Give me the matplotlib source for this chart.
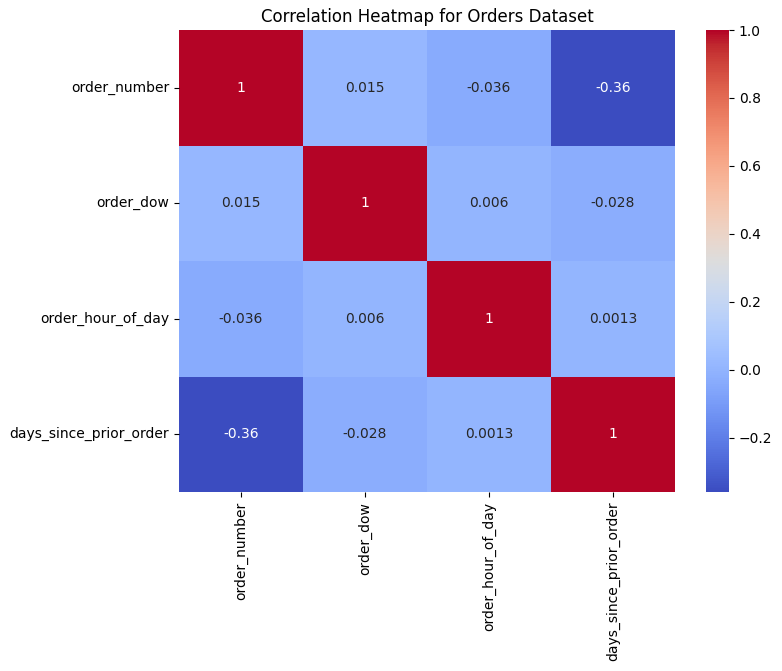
import matplotlib
matplotlib.use('Agg')
import matplotlib.pyplot as plt
import numpy as np
import pandas as pd
import seaborn as sns

columns = ['order_number', 'order_dow', 'order_hour_of_day', 'days_since_prior_order']
corr_values = [
    [1.0, 0.015, -0.036, -0.36],
    [0.015, 1.0, 0.006, -0.028],
    [-0.036, 0.006, 1.0, 0.0013],
    [-0.36, -0.028, 0.0013, 1.0],
]

corr = pd.DataFrame(corr_values, index=columns, columns=columns)

fig = plt.figure(figsize=(7.82, 6.71), dpi=100)
ax = fig.add_axes([179 / 782, 1 - 492 / 671, 496 / 782, 462 / 671])
cax = fig.add_axes([706 / 782, 1 - 492 / 671, 23 / 782, 462 / 671])

sns.heatmap(corr, annot=True, cmap='coolwarm', ax=ax, cbar_ax=cax)
ax.set_title('Correlation Heatmap for Orders Dataset')

fig.savefig('out.png', dpi=100)
